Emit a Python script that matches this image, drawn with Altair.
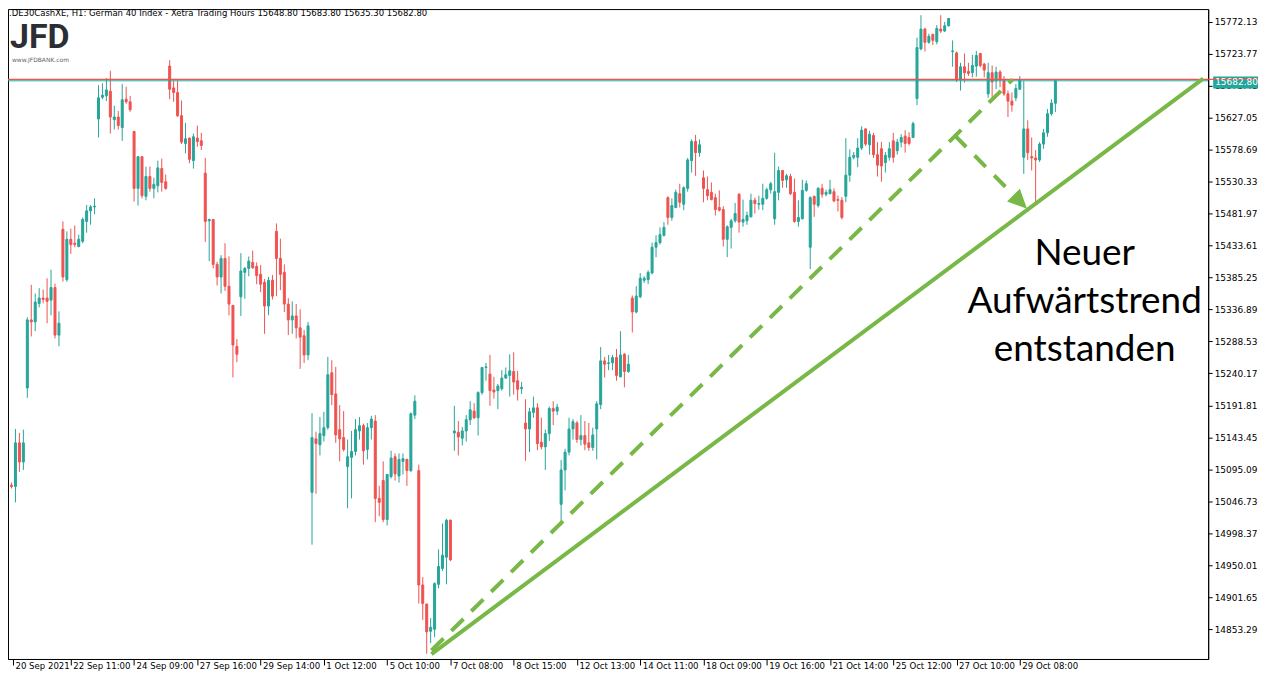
import altair as alt
import pandas as pd

# ---------------- candle data (DE30 H1) ----------------
opens = [
    15071, 15069, 15135, 15106,
    15218, 15321, 15318, 15346, 15354, 15354, 15351, 15370, 15298,
    15458, 15382, 15443, 15437, 15432, 15440, 15470, 15486, 15492,
    15625, 15658, 15660, 15667, 15624, 15628, 15612, 15655, 15651,
    15606, 15520, 15568, 15508, 15538, 15520, 15524, 15550, 15530,
    15705, 15672, 15665, 15630, 15588, 15596, 15562, 15596, 15592,
    15543, 15471, 15473, 15405, 15386, 15414, 15372, 15343, 15281,
    15356, 15393, 15399, 15408, 15402, 15390, 15378, 15342, 15381,
    15455, 15414, 15393, 15345, 15321, 15327, 15309, 15297, 15268,
    15060, 15141, 15132, 15146, 15158, 15241, 15209, 15155, 15143,
    15099, 15113, 15122, 15153, 15161, 15125, 15158, 15168, 15051,
    15078, 15019, 15084, 15114, 15085, 15107, 15110, 15093, 15177,
    15093, 14920, 14891, 14850, 14853, 14921, 14945, 14962, 15018,
    15150, 15151, 15142, 15153, 15170, 15183, 15173, 15211, 15249,
    15239, 15215, 15214, 15217, 15233, 15237, 15243, 15229, 15217,
    15165, 15156, 15181, 15188, 15136, 15129, 15149, 15187, 15183,
    15042, 15094, 15121, 15156, 15165, 15140, 15146, 15135, 15128,
    15156, 15193, 15259, 15255, 15256, 15264, 15235, 15269, 15243,
    15354, 15333, 15356, 15381, 15382, 15392, 15431, 15438, 15449,
    15506, 15476, 15491, 15512, 15496, 15520, 15562, 15591, 15574,
    15536, 15518, 15514, 15506, 15491, 15488, 15443, 15461, 15471,
    15511, 15469, 15471, 15477, 15502, 15496, 15496, 15505, 15518,
    15474, 15514, 15547, 15533, 15538, 15514, 15470, 15474, 15517,
    15431, 15508, 15494, 15520, 15511, 15512, 15515, 15503, 15502,
    15508, 15540, 15567, 15567, 15581, 15610, 15586, 15600, 15571,
    15580, 15559, 15567, 15592, 15577, 15590, 15599, 15597, 15597,
    15656, 15731, 15761, 15741, 15753, 15742, 15761, 15758, 15766,
    15727, 15725, 15684, 15704, 15697, 15695, 15705, 15724, 15708,
    15663, 15695, 15683, 15696, 15683, 15663, 15652, 15657, 15670,
    15567, 15610, 15568, 15566, 15563, 15587, 15604, 15633, 15648.8,
]
highs = [
    15075, 15156, 15150, 15155,
    15325, 15374, 15361, 15369, 15367, 15384, 15397, 15376, 15334,
    15470, 15455, 15459, 15464, 15450, 15476, 15495, 15495, 15505,
    15676, 15679, 15687, 15698, 15645, 15637, 15678, 15674, 15660,
    15607, 15569, 15568, 15553, 15553, 15536, 15562, 15565, 15541,
    15714, 15683, 15683, 15653, 15619, 15597, 15603, 15615, 15604,
    15566, 15474, 15473, 15409, 15419, 15437, 15417, 15343, 15292,
    15422, 15401, 15417, 15426, 15408, 15404, 15383, 15386, 15389,
    15467, 15444, 15405, 15354, 15349, 15345, 15337, 15306, 15318,
    15180, 15152, 15174, 15182, 15265, 15260, 15250, 15192, 15183,
    15140, 15153, 15171, 15174, 15164, 15165, 15176, 15177, 15070,
    15107, 15088, 15123, 15119, 15119, 15119, 15111, 15181, 15207,
    15102, 14932, 14892, 14870, 14924, 14974, 15013, 15020, 15019,
    15191, 15168, 15159, 15177, 15198, 15195, 15213, 15250, 15256,
    15268, 15235, 15224, 15245, 15249, 15269, 15272, 15244, 15227,
    15201, 15188, 15205, 15195, 15173, 15155, 15190, 15198, 15194,
    15109, 15126, 15173, 15171, 15168, 15177, 15168, 15165, 15158,
    15198, 15280, 15265, 15268, 15268, 15277, 15304, 15271, 15268,
    15358, 15372, 15392, 15387, 15396, 15438, 15449, 15461, 15469,
    15508, 15505, 15518, 15527, 15523, 15566, 15594, 15601, 15594,
    15547, 15538, 15529, 15512, 15517, 15493, 15464, 15474, 15498,
    15513, 15503, 15485, 15512, 15506, 15509, 15527, 15521, 15530,
    15574, 15553, 15548, 15542, 15542, 15535, 15502, 15533, 15532,
    15508, 15509, 15522, 15527, 15518, 15533, 15520, 15509, 15507,
    15596, 15579, 15575, 15596, 15614, 15611, 15607, 15604, 15590,
    15590, 15575, 15590, 15604, 15595, 15602, 15608, 15605, 15621,
    15748, 15782, 15763, 15754, 15754, 15767, 15782, 15772, 15778,
    15744, 15727, 15710, 15724, 15710, 15722, 15728, 15725, 15710,
    15710, 15706, 15704, 15699, 15690, 15668, 15665, 15678, 15690,
    15683, 15623, 15597, 15578, 15590, 15610, 15640, 15655, 15683.8,
]
lows = [
    15066, 15045, 15091, 15094,
    15203, 15296, 15304, 15340, 15346, 15316, 15328, 15293, 15281,
    15379, 15379, 15421, 15431, 15431, 15437, 15453, 15465, 15481,
    15597, 15655, 15652, 15603, 15609, 15609, 15592, 15648, 15636,
    15500, 15494, 15505, 15502, 15515, 15505, 15514, 15515, 15518,
    15655, 15651, 15628, 15587, 15573, 15558, 15550, 15583, 15578,
    15439, 15410, 15399, 15373, 15361, 15365, 15328, 15234, 15257,
    15327, 15353, 15387, 15398, 15375, 15363, 15300, 15328, 15352,
    15357, 15366, 15333, 15298, 15300, 15293, 15247, 15256, 15260,
    14981, 15058, 15116, 15137, 15155, 15192, 15135, 15107, 15122,
    15036, 15051, 15116, 15140, 15102, 15110, 15140, 15015, 15024,
    15015, 15010, 15081, 15078, 15075, 15087, 15070, 15091, 15171,
    14892, 14867, 14816, 14832, 14841, 14915, 14941, 14921, 14956,
    15123, 15116, 15131, 15137, 15162, 15171, 15146, 15208, 15229,
    15191, 15202, 15186, 15214, 15232, 15205, 15208, 15199, 15209,
    15108, 15121, 15173, 15124, 15125, 15094, 15138, 15162, 15177,
    15010, 15063, 15116, 15140, 15135, 15131, 15124, 15123, 15123,
    15110, 15186, 15234, 15245, 15245, 15229, 15234, 15219, 15241,
    15302, 15331, 15354, 15377, 15375, 15390, 15416, 15435, 15447,
    15465, 15471, 15490, 15491, 15487, 15515, 15544, 15539, 15568,
    15499, 15502, 15502, 15479, 15485, 15432, 15416, 15429, 15468,
    15453, 15462, 15465, 15476, 15482, 15488, 15487, 15503, 15512,
    15465, 15502, 15521, 15521, 15510, 15468, 15462, 15473, 15515,
    15398, 15477, 15491, 15506, 15508, 15511, 15499, 15485, 15473,
    15499, 15530, 15564, 15552, 15578, 15584, 15571, 15566, 15538,
    15530, 15544, 15562, 15559, 15571, 15582, 15574, 15585, 15596,
    15646, 15729, 15727, 15739, 15737, 15738, 15755, 15757, 15765,
    15704, 15681, 15668, 15680, 15690, 15688, 15689, 15703, 15688,
    15657, 15657, 15670, 15673, 15660, 15628, 15636, 15652, 15669,
    15542, 15563, 15547, 15497, 15560, 15580, 15598, 15630, 15635.3,
]
closes = [
    15069, 15135, 15106, 15135,
    15321, 15318, 15348, 15354, 15352, 15349, 15370, 15298, 15316,
    15386, 15443, 15435, 15435, 15443, 15473, 15486, 15492, 15493,
    15657, 15661, 15669, 15628, 15628, 15615, 15654, 15651, 15639,
    15520, 15568, 15509, 15538, 15520, 15526, 15551, 15529, 15520,
    15670, 15665, 15630, 15590, 15595, 15564, 15598, 15591, 15585,
    15470, 15473, 15405, 15386, 15414, 15372, 15345, 15283, 15269,
    15395, 15399, 15410, 15400, 15388, 15375, 15342, 15381, 15357,
    15414, 15390, 15345, 15321, 15327, 15309, 15295, 15268, 15312,
    15143, 15134, 15149, 15158, 15238, 15208, 15147, 15141, 15125,
    15114, 15122, 15155, 15161, 15123, 15158, 15171, 15051, 15045,
    15019, 15087, 15112, 15088, 15110, 15111, 15093, 15179, 15198,
    14920, 14892, 14849, 14856, 14922, 14948, 14965, 15018, 14958,
    15153, 15144, 15153, 15170, 15185, 15173, 15211, 15249, 15250,
    15214, 15212, 15221, 15233, 15238, 15244, 15227, 15216, 15219,
    15156, 15182, 15188, 15134, 15129, 15149, 15187, 15183, 15189,
    15094, 15121, 15156, 15167, 15140, 15146, 15133, 15128, 15147,
    15194, 15259, 15254, 15256, 15264, 15237, 15268, 15243, 15254,
    15333, 15357, 15384, 15384, 15393, 15431, 15438, 15450, 15461,
    15476, 15494, 15514, 15499, 15521, 15563, 15591, 15574, 15586,
    15520, 15509, 15503, 15488, 15487, 15443, 15462, 15471, 15482,
    15469, 15473, 15479, 15502, 15497, 15497, 15505, 15518, 15527,
    15515, 15547, 15532, 15539, 15512, 15470, 15476, 15517, 15527,
    15506, 15496, 15520, 15511, 15514, 15518, 15501, 15502, 15476,
    15540, 15567, 15570, 15581, 15608, 15587, 15602, 15571, 15555,
    15554, 15570, 15580, 15567, 15590, 15597, 15588, 15588, 15618,
    15733, 15761, 15741, 15750, 15744, 15762, 15758, 15766, 15777,
    15728, 15684, 15704, 15695, 15694, 15706, 15721, 15706, 15699,
    15695, 15681, 15696, 15684, 15663, 15652, 15646, 15671, 15684,
    15610, 15574, 15566, 15563, 15587, 15604, 15633, 15649, 15682.8,
]

# ---------------- axis labels ----------------
x_tick_bars = [0.375, 15, 31, 47, 63, 79, 95, 111, 127, 143, 159, 175, 191, 207, 223, 239, 255]
x_tick_labels = ["20 Sep 2021", "22 Sep 11:00", "24 Sep 09:00", "27 Sep 16:00", "29 Sep 14:00",
                 "1 Oct 12:00", "5 Oct 10:00", "7 Oct 08:00", "8 Oct 15:00", "12 Oct 13:00",
                 "14 Oct 11:00", "18 Oct 09:00", "19 Oct 16:00", "21 Oct 14:00", "25 Oct 12:00",
                 "27 Oct 10:00", "29 Oct 08:00"]
y_ticks = [14853.29, 14901.65, 14950.01, 14998.37, 15046.73, 15095.09, 15143.45, 15191.81,
           15240.17, 15288.53, 15336.89, 15385.25, 15433.61, 15481.97, 15530.33, 15578.69,
           15627.05, 15675.41, 15723.77, 15772.13]

# ---------------- annotation values ----------------
hline_price = 15685.0
bid_price = 15682.8
solid_bars = [106.2, 301.375]
solid_prices = [14815.5, 15686.0]
dashed_bars = [106.2, 253.2]
dashed_prices = [14821.0, 15685.0]
arrow_bars = [238.6, 253.4]
arrow_prices = [15599.8, 15510.0]
head_bar = [255.1]
head_price = [15499.6]
note_lines = ["Neuer", "Aufwärtstrend", "entstanden"]
note_bar = [271.4, 271.4, 271.4]
note_prices = [15403.7, 15331.2, 15258.8]
header_text = ".DE30CashXE, H1:  German 40 Index  - Xetra Trading Hours  15648.80 15683.80 15635.30 15682.80"

# ---------------- build ----------------
n = len(opens)
df = pd.DataFrame({"bar": list(range(n)), "open": opens, "high": highs,
                   "low": lows, "close": closes})
df["dir"] = ["up" if c >= o else "down" for o, c in zip(opens, closes)]

W, H = 1204, 652
X_DOMAIN = [0.375, 301.375]
Y_DOMAIN = [14808.0, 15791.3]
TEAL, RED, GREEN = "#26a69a", "#ef5350", "#78b846"
FONT = "DejaVu Sans"

label_expr = " : ".join(f"datum.value == {b} ? '{l}'" for b, l in zip(x_tick_bars, x_tick_labels)) + " : ''"

x_axis = alt.Axis(values=x_tick_bars, labelExpr=label_expr, orient="bottom", tickSize=6,
                  labelAlign="left", labelBaseline="top", labelOffset=2, labelPadding=-3,
                  labelFlush=False, labelOverlap=False, labelBound=False, grid=False, title=None,
                  labelFont=FONT, labelFontSize=8.6, labelColor="black", tickColor="black",
                  domainColor="black")
y_axis = alt.Axis(values=y_ticks, format=".2f", orient="right", tickSize=4, labelPadding=2,
                  labelOverlap=False, grid=False, title=None, labelFont=FONT, labelFontSize=9,
                  labelColor="black", tickColor="black", domainColor="black")


def X(field):
    return alt.X(f"{field}:Q", scale=alt.Scale(domain=X_DOMAIN, nice=False, zero=False), axis=x_axis)


def Y(field):
    return alt.Y(f"{field}:Q", scale=alt.Scale(domain=Y_DOMAIN, nice=False, zero=False), axis=y_axis)


dir_scale = alt.Scale(domain=["up", "down"], range=[TEAL, RED])

base = alt.Chart(df)
wicks = base.mark_rule(strokeWidth=1, clip=True).encode(
    x=X("bar"), y=Y("low"), y2="high", color=alt.Color("dir:N", scale=dir_scale, legend=None))
bodies = base.mark_bar(width=2, strokeWidth=1, clip=True).encode(
    x=X("bar"), y=Y("open"), y2="close",
    color=alt.Color("dir:N", scale=dir_scale, legend=None),
    stroke=alt.Stroke("dir:N", scale=dir_scale, legend=None))

bid_line = alt.Chart(pd.DataFrame({"price": [bid_price]})).mark_rule(
    color=TEAL, strokeWidth=1).encode(y=Y("price"))
red_line = alt.Chart(pd.DataFrame({"price": [hline_price]})).mark_rule(
    color=RED, strokeWidth=1.2).encode(y=Y("price"))

tag_df = pd.DataFrame({"top": [bid_price + 6.5], "bot": [bid_price - 11.5],
                       "price": [bid_price - 2.5], "t": [f"{bid_price:.2f}"]})
tag_box = alt.Chart(tag_df).mark_rect(color=TEAL, clip=False).encode(
    x=alt.value(W + 5), x2=alt.value(W + 50), y=Y("top"), y2="bot")
tag_text = alt.Chart(tag_df).mark_text(align="left", baseline="middle", color="white",
                                       font=FONT, fontSize=9, clip=False).encode(
    x=alt.value(W + 7), y=Y("price"), text="t:N")
tag_red = alt.Chart(pd.DataFrame({"price": [hline_price]})).mark_rule(
    color=RED, strokeWidth=1.2, clip=False).encode(
    x=alt.value(W), x2=alt.value(W + 50), y=Y("price"))

solid = alt.Chart(pd.DataFrame({"bar": solid_bars, "price": solid_prices})).mark_line(
    color=GREEN, strokeWidth=4).encode(x=X("bar"), y=Y("price"))
dashed = alt.Chart(pd.DataFrame({"bar": dashed_bars, "price": dashed_prices})).mark_line(
    color=GREEN, strokeWidth=4, strokeDash=[17, 11]).encode(x=X("bar"), y=Y("price"))
arrow = alt.Chart(pd.DataFrame({"bar": arrow_bars, "price": arrow_prices})).mark_line(
    color=GREEN, strokeWidth=4, strokeDash=[16, 12]).encode(x=X("bar"), y=Y("price"))
head = alt.Chart(pd.DataFrame({"bar": head_bar, "price": head_price})).mark_point(
    shape="M0,-1L0.95,1L-0.95,1Z", angle=135, size=369, filled=True, color=GREEN,
    opacity=1, strokeWidth=0).encode(x=X("bar"), y=Y("price"))

notes = alt.Chart(pd.DataFrame({"bar": note_bar, "price": note_prices, "t": note_lines})).mark_text(
    align="center", baseline="alphabetic", font="Lato", fontSize=37, color="black").encode(
    x=X("bar"), y=Y("price"), text="t:N")

header = alt.Chart(pd.DataFrame({"t": [header_text]})).mark_text(
    align="left", baseline="alphabetic", font=FONT, fontSize=8.5, color="black").encode(
    x=alt.value(1), y=alt.value(7), text="t:N")
logo = alt.Chart(pd.DataFrame({"t": ["JFD"]})).mark_text(
    align="left", baseline="alphabetic", font="Roboto", fontWeight="bold", fontSize=34,
    color="#2b2f33").encode(x=alt.value(2), y=alt.value(39), text="t:N")
logo_sub = alt.Chart(pd.DataFrame({"t": ["www.JFDBANK.com"]})).mark_text(
    align="left", baseline="alphabetic", font=FONT, fontSize=6, color="#666666").encode(
    x=alt.value(4), y=alt.value(53), text="t:N")

chart = alt.layer(
    wicks, bodies, bid_line, red_line, tag_box, tag_red, tag_text,
    solid, dashed, arrow, head, notes, header, logo, logo_sub
).properties(
    width=W, height=H, background="white",
    autosize=alt.AutoSizeParams(type="none"),
    padding={"left": 0, "top": 0, "right": 56, "bottom": 20},
).configure_view(stroke="black", strokeWidth=1)

chart.save("out.html", embed_options={"renderer": "svg", "actions": False})
